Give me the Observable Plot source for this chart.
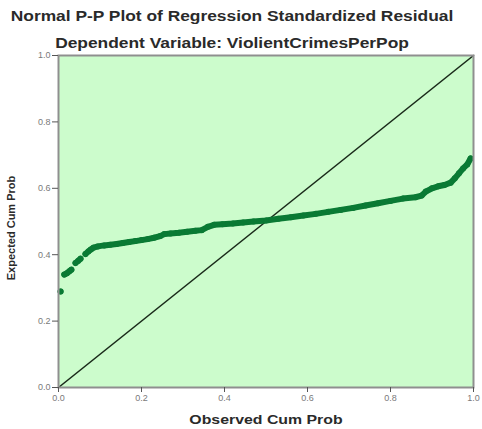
<!DOCTYPE html>
<html>
<head>
<meta charset="utf-8">
<script src="https://cdn.jsdelivr.net/npm/d3@7"></script>
<script src="https://cdn.jsdelivr.net/npm/@observablehq/plot@0.6"></script>
<style>
  html, body { margin: 0; padding: 0; background: #fff; }
  #wrap { width: 482px; height: 429px; position: relative; font-family: "Liberation Sans", Arial, sans-serif; overflow: hidden; }
  #head { position: relative; height: 50px; }
  .t { position: absolute; left: 0; width: 464px; text-align: center; font-weight: bold; font-size: 14px; color: #2a2a2a; white-space: nowrap; transform: scaleX(1.24); transform-origin: 50% 50%; }
  .lab { position: absolute; font-weight: bold; color: #2a2a2a; white-space: nowrap; text-align: center; line-height: 14px; height: 14px; }
  #xlab { left: 166px; width: 200px; top: 413px; font-size: 13px; transform: scaleX(1.22); transform-origin: 50% 50%; }
  #ylab { left: -89px; width: 200px; top: 221px; font-size: 11px; transform: rotate(-90deg); transform-origin: 50% 50%; }
  svg { display: block; }
</style>
</head>
<body>
<div id="wrap">
  <div id="head">
    <div class="t" id="title" style="top:8px;">Normal P-P Plot of Regression Standardized Residual</div>
    <div class="t" id="subtitle" style="top:35px;">Dependent Variable: ViolientCrimesPerPop</div>
  </div>
  <div id="chart"></div>
  <div class="lab" id="xlab"></div>
  <div class="lab" id="ylab"></div>
</div>
<script>
// Observed cumulative probability (x) and expected cumulative probability (y)
const obsCumProb = [
  0.005,
  0.014, 0.020, 0.026, 0.031,
  0.041, 0.047, 0.053,
  0.065, 0.072, 0.078, 0.084, 0.095, 0.110, 0.125, 0.140, 0.155, 0.170,
  0.185, 0.200, 0.215, 0.230, 0.245, 0.255, 0.270, 0.290, 0.310, 0.330,
  0.345, 0.360, 0.375, 0.395, 0.420, 0.445, 0.470, 0.500, 0.530, 0.560,
  0.590, 0.620, 0.650, 0.680, 0.710, 0.740, 0.770, 0.800, 0.830, 0.860,
  0.875, 0.885, 0.900, 0.915, 0.930, 0.945, 0.955, 0.965, 0.975, 0.985, 0.993
];
const expCumProb = [
  0.289,
  0.340, 0.344, 0.350, 0.355,
  0.375, 0.381, 0.388,
  0.402, 0.410, 0.416, 0.421, 0.425, 0.428, 0.430, 0.432, 0.435, 0.438,
  0.441, 0.444, 0.447, 0.451, 0.456, 0.462, 0.464, 0.466, 0.469, 0.472,
  0.474, 0.484, 0.490, 0.492, 0.494, 0.497, 0.500, 0.503, 0.508, 0.513,
  0.518, 0.523, 0.529, 0.535, 0.541, 0.548, 0.555, 0.562, 0.569, 0.573,
  0.578, 0.590, 0.600, 0.606, 0.610, 0.617, 0.630, 0.645, 0.660, 0.672, 0.690
];
// contiguous runs of the point cloud
const runId = [
  1,
  2, 2, 2, 2,
  3, 3, 3,
  4,4,4,4,4,4,4,4,4,4,
  4,4,4,4,4,4,4,4,4,4,
  4,4,4,4,4,4,4,4,4,4,
  4,4,4,4,4,4,4,4,4,4,
  4,4,4,4,4,4,4,4,4,4,4
];
// reference diagonal
const diagX = [0, 1];
const diagY = [0, 1];
const tickValues = [0, 0.2, 0.4, 0.6, 0.8, 1.0];
const xLabel = "Observed Cum Prob";
const yLabel = "Expected Cum Prob";

document.getElementById("xlab").textContent = xLabel;
document.getElementById("ylab").textContent = yLabel;

const pts = obsCumProb.map((x, i) => ({x, y: expCumProb[i], run: runId[i]}));
const diag = diagX.map((x, i) => ({x, y: diagY[i]}));

const green = "#0a7a34";
const axisColor = "#7a7a7a";

const chart = Plot.plot({
  width: 482,
  height: 379,
  marginTop: 5,
  marginBottom: 42,
  marginLeft: 58,
  marginRight: 9,
  style: {fontFamily: "Liberation Sans, Arial, sans-serif", background: "#fff"},
  x: {domain: [0, 1]},
  y: {domain: [0, 1]},
  marks: [
    Plot.frame({fill: "#ccfccc", stroke: "none"}),
    Plot.line(diag, {x: "x", y: "y", stroke: "#1a2a1a", strokeWidth: 1.6}),
    Plot.line(pts, {x: "x", y: "y", z: "run", stroke: green, strokeWidth: 6, strokeLinecap: "round", strokeLinejoin: "round"}),
    Plot.dot(pts, {x: "x", y: "y", r: 3, fill: green, stroke: "none"}),
    Plot.frame({stroke: "#8f8f8f", strokeWidth: 2, fill: "none"}),
    Plot.axisX({ticks: tickValues, tickFormat: d3.format(".1f"), tickSize: 5, tickPadding: 2, fontSize: 9, color: axisColor, stroke: "#555", label: null}),
    Plot.axisY({ticks: tickValues, tickFormat: d3.format(".1f"), tickSize: 6, tickPadding: 2, fontSize: 9, color: axisColor, stroke: "#555", label: null})
  ]
});
document.getElementById("chart").appendChild(chart);
</script>
</body>
</html>
